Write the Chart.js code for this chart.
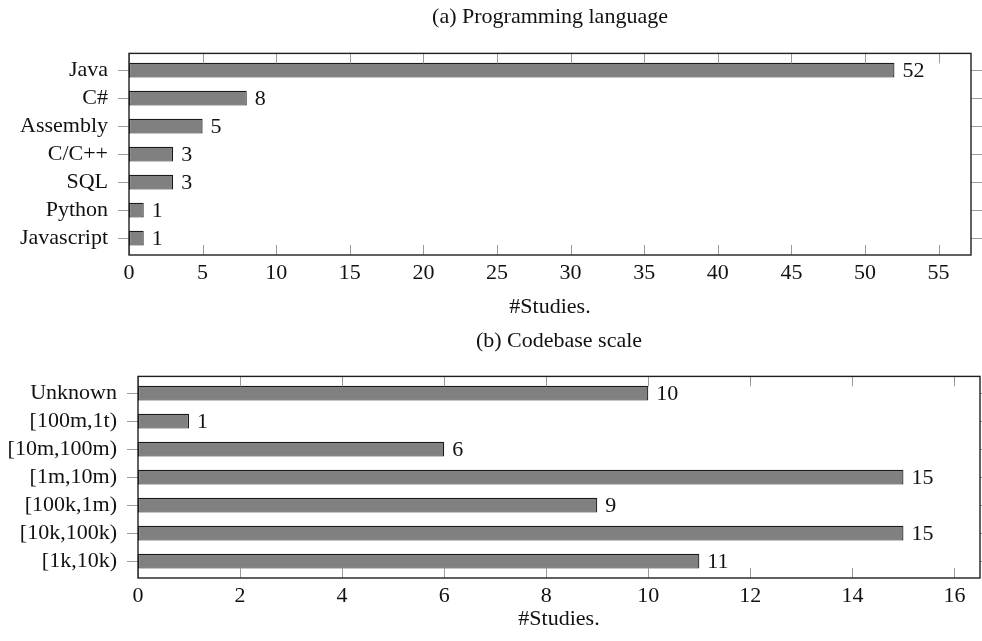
<!DOCTYPE html>
<html>
<head>
<meta charset="utf-8">
<title>Studies by programming language and codebase scale</title>
<script src="https://cdn.jsdelivr.net/npm/chart.js@4"></script>
<style>
  html, body { margin: 0; padding: 0; background: #ffffff; }
  body { width: 982px; height: 641px; position: relative; overflow: hidden; }
  .panel { position: absolute; left: 0; width: 982px; }
</style>
</head>
<body>
<div class="panel" style="top:0; height:320px;"><canvas id="langChart"></canvas></div>
<div class="panel" style="top:320px; height:321px;"><canvas id="scaleChart"></canvas></div>
<script>
// (a) Programming language
const langCategories = ['Java', 'C#', 'Assembly', 'C/C++', 'SQL', 'Python', 'Javascript'];
const langStudies = [52, 8, 5, 3, 3, 1, 1];
const langTicks = [0, 5, 10, 15, 20, 25, 30, 35, 40, 45, 50, 55];

// (b) Codebase scale
const scaleCategories = ['Unknown', '[100m,1t)', '[10m,100m)', '[1m,10m)', '[100k,1m)', '[10k,100k)', '[1k,10k)'];
const scaleStudies = [10, 1, 6, 15, 9, 15, 11];
const scaleTicks = [0, 2, 4, 6, 8, 10, 12, 14, 16];

const FONT = { family: "'Liberation Serif', 'Times New Roman', serif", size: 22 };
const TEXT = '#111111';

Chart.defaults.font.family = FONT.family;
Chart.defaults.font.size = FONT.size;
Chart.defaults.color = TEXT;

// Frame, pgfplots-style tick marks and value labels next to each bar
const axisDecor = {
  id: 'axisDecor',
  afterDatasetsDraw(chart) {
    const { ctx, chartArea: a, scales: { x, y } } = chart;
    ctx.save();
    // tick marks
    ctx.strokeStyle = '#9a9a9a';
    ctx.lineWidth = 1;
    ctx.beginPath();
    x.ticks.forEach(t => {
      const px = Math.round(x.getPixelForValue(t.value)) + 0.5;
      ctx.moveTo(px, a.top); ctx.lineTo(px, a.top + 10);
      ctx.moveTo(px, a.bottom); ctx.lineTo(px, a.bottom - 10);
    });
    y.ticks.forEach(t => {
      const py = Math.round(y.getPixelForValue(t.value)) + 0.5;
      ctx.moveTo(a.left - 11, py); ctx.lineTo(a.left, py);
      ctx.moveTo(a.right, py); ctx.lineTo(a.right + 11, py);
    });
    ctx.stroke();
    // frame
    ctx.strokeStyle = '#1e1e1e';
    ctx.lineWidth = 1.4;
    ctx.strokeRect(a.left, a.top, a.right - a.left, a.bottom - a.top);
    // value labels
    const ds = chart.data.datasets[0];
    const meta = chart.getDatasetMeta(0);
    ctx.fillStyle = TEXT;
    ctx.font = FONT.size + 'px ' + FONT.family;
    ctx.textAlign = 'left';
    ctx.textBaseline = 'middle';
    meta.data.forEach((bar, i) => {
      ctx.fillText(String(ds.data[i].x), bar.x + 8, bar.y + 1);
    });
    ctx.restore();
  }
};

function buildChart(id, opts) {
  const { categories, values, ticks, xMax, title, yWidth, xHeight, tickPad, titlePad, padRight, padBottom } = opts;
  return new Chart(document.getElementById(id), {
    type: 'bar',
    data: {
      datasets: [{
        data: values.map((v, i) => ({ x: v, y: i })),
        backgroundColor: '#808080',
        borderColor: '#1a1a1a',
        borderWidth: 1.2,
        borderSkipped: false,
        categoryPercentage: 1,
        barPercentage: 0.53
      }]
    },
    options: {
      indexAxis: 'y',
      responsive: true,
      maintainAspectRatio: false,
      animation: false,
      devicePixelRatio: 1,
      layout: { padding: { left: 0, right: padRight, top: 0, bottom: padBottom } },
      plugins: {
        legend: { display: false },
        tooltip: { enabled: false },
        title: {
          display: true,
          fullSize: false,
          text: title,
          color: TEXT,
          font: { size: FONT.size, weight: 'normal' },
          padding: titlePad
        }
      },
      scales: {
        x: {
          type: 'linear',
          position: 'bottom',
          min: 0,
          max: xMax,
          afterBuildTicks: s => { s.ticks = ticks.map(v => ({ value: v })); },
          afterFit: s => { s.height = xHeight; },
          grid: { display: false, drawTicks: false, tickLength: 0 },
          border: { display: false },
          ticks: { autoSkip: false, maxRotation: 0, padding: tickPad, color: TEXT },
          title: { display: true, text: '#Studies.', color: TEXT, padding: { top: 0, bottom: 0 } }
        },
        y: {
          type: 'linear',
          reverse: true,
          offset: false,
          min: -0.6,
          max: 6.6,
          afterBuildTicks: s => { s.ticks = categories.map((_, i) => ({ value: i })); },
          afterFit: s => { s.width = yWidth; },
          grid: { display: false, offset: false, drawTicks: false, tickLength: 0 },
          border: { display: false },
          ticks: { autoSkip: false, padding: 21, color: TEXT, callback: v => categories[v] }
        }
      }
    },
    plugins: [axisDecor]
  });
}

buildChart('langChart', {
  categories: langCategories,
  values: langStudies,
  ticks: langTicks,
  xMax: 57.2,
  title: '(a) Programming language',
  yWidth: 129,
  xHeight: 65,
  tickPad: 5,
  titlePad: { top: 4, bottom: 23 },
  padRight: 11,
  padBottom: 0
});

buildChart('scaleChart', {
  categories: scaleCategories,
  values: scaleStudies,
  ticks: scaleTicks,
  xMax: 16.5,
  title: '(b) Codebase scale',
  yWidth: 138,
  xHeight: 54,
  tickPad: 5,
  titlePad: { top: 8, bottom: 22 },
  padRight: 2,
  padBottom: 9
});
</script>
</body>
</html>
